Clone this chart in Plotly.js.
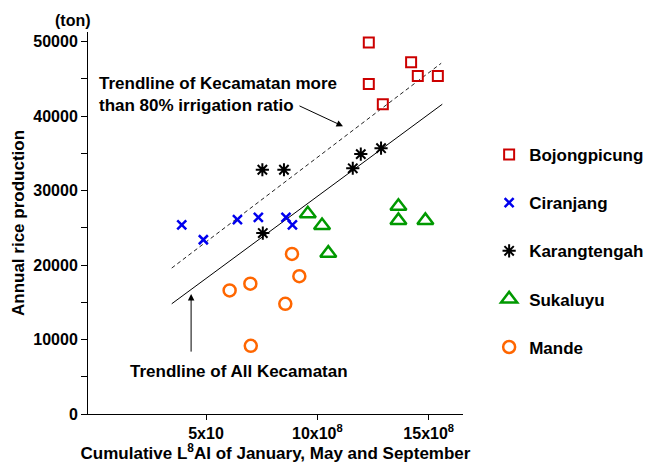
<!DOCTYPE html>
<html><head><meta charset="utf-8">
<script src="https://cdn.plot.ly/plotly-3.0.1.min.js"></script>
<style>body{margin:0;background:#fff}#c{width:647px;height:463px}</style>
</head><body><div id="c"></div>
<script>
// x in units of 1e8 (cumulative LAI), y in tons
const bojongX = [12.31, 14.21, 12.31, 14.51, 15.41, 12.94];
const bojongY = [49900, 47250, 44300, 45400, 45400, 41600];
const ciranjangX = [3.91, 4.88, 6.41, 7.35, 8.59, 8.88];
const ciranjangY = [25400, 23400, 26100, 26400, 26400, 25400];
const karangX = [7.53, 8.50, 11.59, 11.95, 12.86, 7.55];
const karangY = [32800, 32800, 33000, 34900, 35700, 24300];
const sukaluyuX = [9.57, 10.21, 10.49, 13.64, 13.64, 14.85];
const sukaluyuY = [26900, 25300, 21600, 27900, 26000, 26000];
const mandeX = [8.86, 9.19, 6.99, 6.06, 8.56, 7.01];
const mandeY = [21500, 18500, 17500, 16600, 14800, 9150];
const trendIrrX = [3.46, 15.56];
const trendIrrY = [19600, 47100];
const trendAllX = [3.46, 15.61];
const trendAllY = [14800, 41600];
const xTickVals = [5, 10, 15];
const xTickText = ["5x10", "10x10<sup>8</sup>", "15x10<sup>8</sup>"];
const yTickVals = [0, 10000, 20000, 30000, 40000, 50000];

const F = "Liberation Sans, Arial, sans-serif";
const traces = [
  {x: trendIrrX, y: trendIrrY, mode: 'lines', line: {color: '#222', width: 1, dash: '4px,3px'}, showlegend: false, hoverinfo: 'skip'},
  {x: trendAllX, y: trendAllY, mode: 'lines', line: {color: '#000', width: 1}, showlegend: false, hoverinfo: 'skip'},
  {x: bojongX, y: bojongY, mode: 'markers', name: 'Bojongpicung', legendgroup: 'a',
   marker: {symbol: 'square-open', size: 10, color: '#cc0000', line: {width: 2}}},
  {x: ciranjangX, y: ciranjangY, mode: 'markers', name: 'Ciranjang', legendgroup: 'b',
   marker: {symbol: 'x-thin-open', size: 9, color: '#0000ee', line: {width: 2.5}}},
  {x: karangX, y: karangY, mode: 'markers', name: 'Karangtengah', legendgroup: 'c',
   marker: {symbol: 'asterisk-open', size: 11, color: '#000', line: {width: 2}}},
  {x: sukaluyuX, y: sukaluyuY, mode: 'markers', name: 'Sukaluyu', legendgroup: 'd',
   marker: {symbol: 'triangle-up-open', size: 14, color: '#009900', line: {width: 2.5}}},
  {x: mandeX, y: mandeY, mode: 'markers', name: 'Mande', legendgroup: 'e',
   marker: {symbol: 'circle-open', size: 12, color: '#ff6600', line: {width: 2.5}}}
];
const layout = {
  width: 647, height: 463,
  margin: {l: 88, r: 184, t: 32, b: 49},
  paper_bgcolor: '#fff', plot_bgcolor: '#fff',
  font: {family: F, color: '#000', size: 16},
  showlegend: true,
  legend: {xref: 'container', x: 0.756, y: 0.725, xanchor: 'left', yanchor: 'top', tracegroupgap: 23,
           font: {family: F, size: 17, weight: 'bold', color: '#000'}, itemwidth: 30},
  xaxis: {range: [-0.3, 16.54], tickvals: xTickVals, ticktext: xTickText, showgrid: false, zeroline: false,
          showline: true, linecolor: '#000', linewidth: 1, ticks: 'outside', ticklen: 5, tickcolor: '#000',
          tickfont: {family: F, size: 16, weight: 'bold'},
          title: {text: 'Cumulative L<sup>8</sup>AI of January, May and September', standoff: 3,
                  font: {family: F, size: 17, weight: 'bold'}}},
  yaxis: {range: [0, 51300], tickvals: yTickVals, tickformat: 'd', showgrid: false, zeroline: false,
          showline: true, linecolor: '#000', linewidth: 1, ticks: 'outside', ticklen: 6, tickcolor: '#000',
          minor: {dtick: 5000, ticks: 'outside', ticklen: 6, tickcolor: '#000'},
          tickfont: {family: F, size: 16, weight: 'bold'},
          title: {text: 'Annual rice production', standoff: 4, font: {family: F, size: 17, weight: 'bold'}}},
  annotations: [
    {xref: 'paper', yref: 'paper', x: 0.013, y: 1.031, xanchor: 'right', yanchor: 'middle', text: '(ton)',
     showarrow: false, font: {family: F, size: 16, weight: 'bold'}},
    {xref: 'x', yref: 'y', x: 0.1, y: 42900, xanchor: 'left', yanchor: 'middle', align: 'left',
     text: 'Trendline of Kecamatan more<br>than 80% irrigation ratio', showarrow: false,
     font: {family: F, size: 17, weight: 'bold'}},
    {xref: 'x', yref: 'y', x: 11.15, y: 38650, ax: -45, ay: -21, text: '', showarrow: true,
     arrowhead: 2, arrowsize: 1.3, arrowwidth: 1, arrowcolor: '#000'},
    {xref: 'x', yref: 'y', x: 6.5, y: 5700, xanchor: 'center', yanchor: 'middle',
     text: 'Trendline of All Kecamatan', showarrow: false, font: {family: F, size: 17, weight: 'bold'}},
    {xref: 'x', yref: 'y', x: 4.33, y: 16100, ax: 0, ay: 59, text: '', showarrow: true,
     arrowhead: 2, arrowsize: 1.3, arrowwidth: 1, arrowcolor: '#000'}
  ]
};
Plotly.newPlot('c', traces, layout, {displayModeBar: false, staticPlot: true});
</script></body></html>
